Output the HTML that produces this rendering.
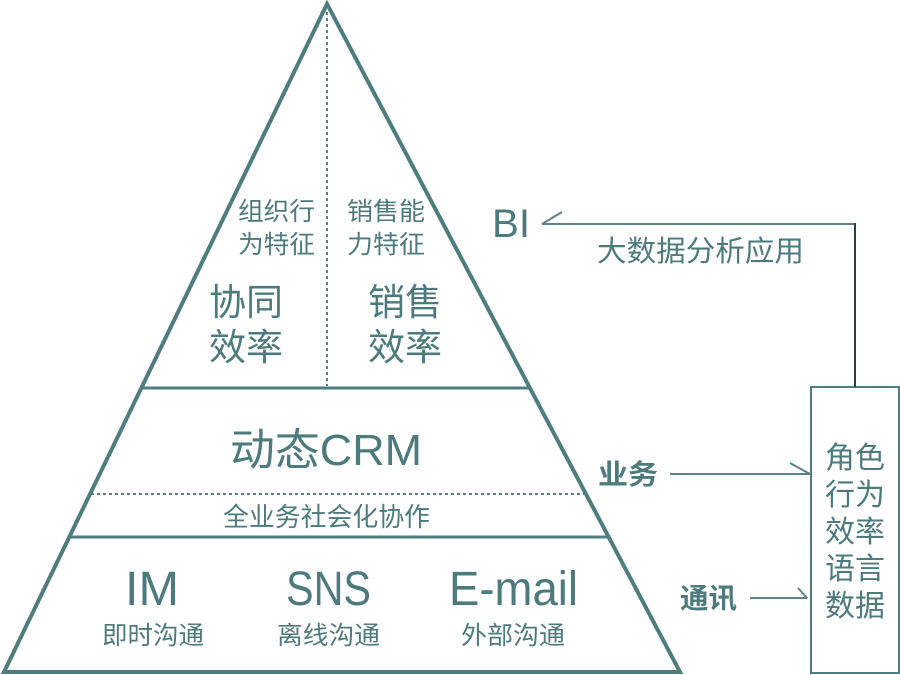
<!DOCTYPE html>
<html><head><meta charset="utf-8"><style>
html,body{margin:0;padding:0;background:#fff;}
svg{display:block;}
text{font-family:"Liberation Sans","Noto Sans CJK SC",sans-serif;fill:#4d7b7d;}
</style></head><body>
<svg width="900" height="675" viewBox="0 0 900 675" xmlns="http://www.w3.org/2000/svg">
<rect width="900" height="675" fill="#fff"/>
<polygon points="327,4 4,672 680,672" fill="none" stroke="#4f7d7f" stroke-width="4" stroke-linejoin="miter"/>
<line x1="327" y1="12" x2="327" y2="386" stroke="#5b7f80" stroke-width="2" stroke-dasharray="3,3"/>
<line x1="141" y1="388" x2="530" y2="388" stroke="#4f7d7f" stroke-width="3"/>
<line x1="91" y1="494" x2="586" y2="494" stroke="#5b7f80" stroke-width="2" stroke-dasharray="3,3"/>
<line x1="69" y1="537" x2="609" y2="537" stroke="#4f7d7f" stroke-width="3"/>
<rect x="811" y="387" width="88" height="286" fill="none" stroke="#4f7d7f" stroke-width="2"/>
<line x1="542" y1="224" x2="856" y2="224" stroke="#5b8284" stroke-width="2"/>
<line x1="542" y1="224" x2="562" y2="212" stroke="#5b8284" stroke-width="2"/>
<line x1="855" y1="223" x2="855" y2="387" stroke="#2f3e40" stroke-width="2"/>
<line x1="670" y1="474" x2="810" y2="474" stroke="#5b8284" stroke-width="2"/>
<line x1="790" y1="463" x2="810" y2="474" stroke="#5b8284" stroke-width="2"/>
<line x1="750" y1="598" x2="807" y2="598" stroke="#5b8284" stroke-width="2"/>
<line x1="798" y1="588" x2="807" y2="598" stroke="#5b8284" stroke-width="2"/>

<text x="238" y="220" font-size="25" textLength="77" lengthAdjust="spacingAndGlyphs">组织行</text>
<text x="238" y="253" font-size="25" textLength="77" lengthAdjust="spacingAndGlyphs">为特征</text>
<text x="347" y="220" font-size="25" textLength="78" lengthAdjust="spacingAndGlyphs">销售能</text>
<text x="347" y="253" font-size="25" textLength="78" lengthAdjust="spacingAndGlyphs">力特征</text>
<text x="209" y="315" font-size="37" textLength="74" lengthAdjust="spacingAndGlyphs">协同</text>
<text x="209" y="360" font-size="37" textLength="74" lengthAdjust="spacingAndGlyphs">效率</text>
<text x="368" y="315" font-size="37" textLength="74" lengthAdjust="spacingAndGlyphs">销售</text>
<text x="368" y="360" font-size="37" textLength="74" lengthAdjust="spacingAndGlyphs">效率</text>

<text x="230" y="465" font-size="44" textLength="192" lengthAdjust="spacingAndGlyphs">动态CRM</text>
<text x="223" y="526" font-size="26" textLength="207" lengthAdjust="spacingAndGlyphs">全业务社会化协作</text>

<text x="125" y="605" font-size="48" textLength="54" lengthAdjust="spacingAndGlyphs">IM</text>
<text x="286" y="605" font-size="48" textLength="85" lengthAdjust="spacingAndGlyphs">SNS</text>
<text x="449" y="605" font-size="48" textLength="129" lengthAdjust="spacingAndGlyphs">E-mail</text>
<text x="102" y="644" font-size="25" textLength="102" lengthAdjust="spacingAndGlyphs">即时沟通</text>
<text x="277" y="644" font-size="25" textLength="103" lengthAdjust="spacingAndGlyphs">离线沟通</text>
<text x="461" y="644" font-size="25" textLength="104" lengthAdjust="spacingAndGlyphs">外部沟通</text>

<text x="492" y="237" font-size="40" textLength="38" lengthAdjust="spacingAndGlyphs">BI</text>
<text x="597" y="261" font-size="29" textLength="207" lengthAdjust="spacingAndGlyphs">大数据分析应用</text>
<text x="598" y="484" font-size="28" font-weight="bold" textLength="60" lengthAdjust="spacingAndGlyphs">业务</text>
<text x="680" y="608" font-size="28" font-weight="bold" textLength="57" lengthAdjust="spacingAndGlyphs">通讯</text>

<text x="825" y="468" font-size="30" textLength="60" lengthAdjust="spacingAndGlyphs">角色</text>
<text x="825" y="505" font-size="30" textLength="60" lengthAdjust="spacingAndGlyphs">行为</text>
<text x="825" y="542" font-size="30" textLength="60" lengthAdjust="spacingAndGlyphs">效率</text>
<text x="825" y="579" font-size="30" textLength="60" lengthAdjust="spacingAndGlyphs">语言</text>
<text x="825" y="616" font-size="30" textLength="60" lengthAdjust="spacingAndGlyphs">数据</text>
</svg>
</body></html>
